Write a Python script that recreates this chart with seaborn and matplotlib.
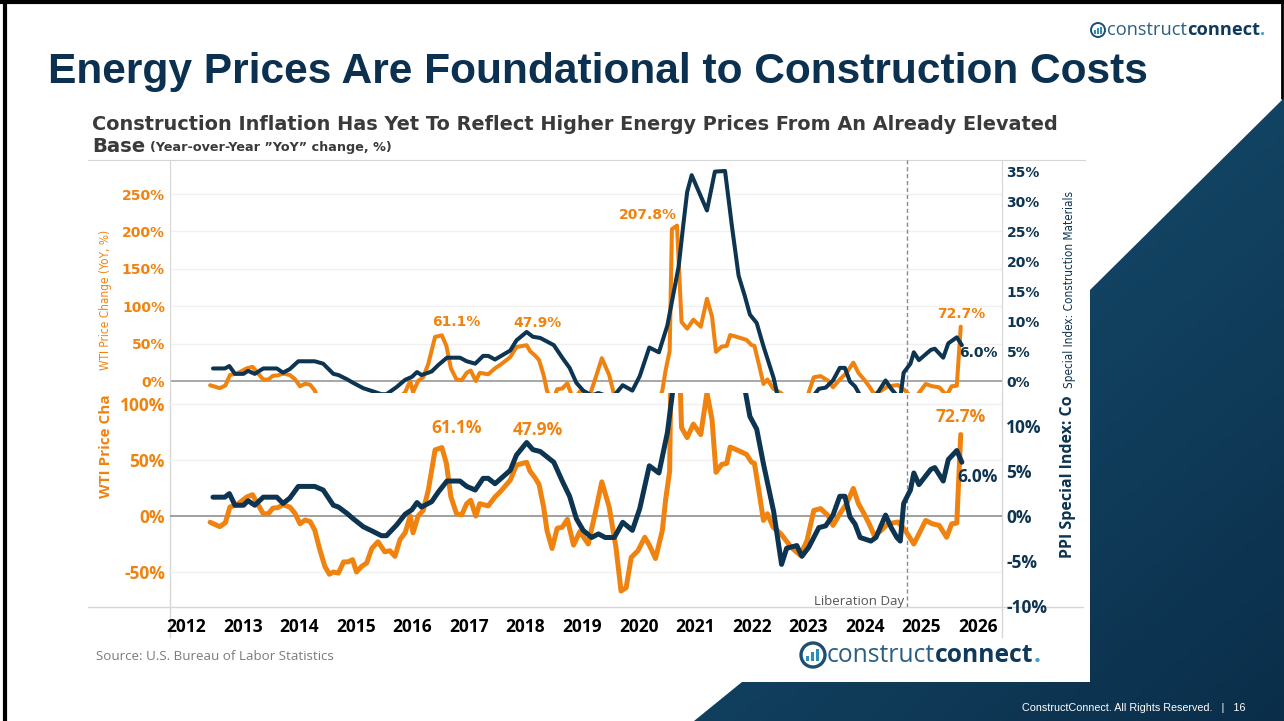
import numpy as np
import pandas as pd
import matplotlib
matplotlib.use("Agg")
import matplotlib.pyplot as plt
from matplotlib import font_manager
from matplotlib.colors import LinearSegmentedColormap
from matplotlib.patches import Polygon, Rectangle, Circle
import seaborn as sns

# ---- values (decimal year, YoY change in %) ----
wti_dates = [2012.92, 2013.09, 2013.19, 2013.27, 2013.39, 2013.57, 2013.67, 2013.77, 2013.86, 2013.95,
             2014.03, 2014.12, 2014.21, 2014.33, 2014.42, 2014.51, 2014.60, 2014.69, 2014.77, 2014.86,
             2014.95, 2015.03, 2015.10, 2015.19, 2015.28, 2015.36, 2015.44, 2015.51, 2015.60, 2015.69,
             2015.78, 2015.89, 2016.01, 2016.10, 2016.19, 2016.28, 2016.37, 2016.46, 2016.51, 2016.60,
             2016.69, 2016.78, 2016.90, 2017.02, 2017.10, 2017.18, 2017.28, 2017.37, 2017.46, 2017.53,
             2017.62, 2017.69, 2017.84, 2017.96, 2018.06, 2018.23, 2018.34, 2018.52, 2018.58, 2018.67,
             2018.74, 2018.82, 2018.88, 2018.97, 2019.06, 2019.15, 2019.24, 2019.35, 2019.46, 2019.61,
             2019.73, 2019.85, 2019.98, 2020.10, 2020.19, 2020.28, 2020.37, 2020.49, 2020.61, 2020.69,
             2020.80, 2020.92, 2020.98, 2021.05, 2021.09, 2021.18, 2021.26, 2021.36, 2021.47, 2021.60,
             2021.71, 2021.80, 2021.87, 2021.97, 2022.06, 2022.12, 2022.24, 2022.41, 2022.50, 2022.55,
             2022.63, 2022.71, 2022.78, 2022.88, 2023.02, 2023.20, 2023.36, 2023.48, 2023.60, 2023.72,
             2023.85, 2023.94, 2024.06, 2024.18, 2024.30, 2024.39, 2024.49, 2024.58, 2024.67, 2024.79,
             2024.91, 2025.09, 2025.22, 2025.37, 2025.46, 2025.58, 2025.70, 2025.82, 2025.95, 2026.04,
             2026.13, 2026.20]
wti_yoy = [-5.6, -9.5, -6, 8, 10, 17, 19, 10, 2, 2,
           7, 7.5, 10, 8, 2.5, -7, -3.6, -5, -12.5, -30,
           -45, -52, -50, -51, -41, -41, -39, -50, -45, -42,
           -29, -23, -32, -31, -36, -21, -15, 0, -15, 0,
           5, 23, 59, 61.1, 47, 17, 2, 1, 11, 14,
           0, 11, 9, 17, 22, 32, 45.5, 47.9, 40, 34,
           28, 8, -13, -29, -11, -10, -3, -26, -14, -25,
           2, 30.5, 8, -28, -67, -64, -37, -31, -19, -26,
           -38, -13, 15, 40, 203, 207.8, 79, 70, 82, 72.6,
           110, 86, 39, 46, 47, 61.5, 59, 55, 48, 47,
           22, -4, 2, -10, -16, -28, -35, -22, 5, 6.6,
           0.6, -8.4, 2, 11, 24.6, 11, 2, -7, -17.4, -13,
           -7, -5.4, -13, -25, -16, -4, -7, -8.4, -19, -7,
           -6.3, 72.7]

ppi_dates = [2012.97, 2013.18, 2013.26, 2013.36, 2013.51, 2013.59, 2013.71, 2013.86, 2014.10, 2014.21,
             2014.33, 2014.48, 2014.77, 2014.92, 2015.10, 2015.19, 2015.34, 2015.45, 2015.63, 2015.81,
             2015.95, 2016.04, 2016.22, 2016.37, 2016.49, 2016.58, 2016.66, 2016.84, 2016.96, 2017.11,
             2017.34, 2017.46, 2017.61, 2017.75, 2017.84, 2017.96, 2018.23, 2018.34, 2018.52, 2018.63,
             2018.76, 2019.00, 2019.15, 2019.28, 2019.40, 2019.52, 2019.67, 2019.79, 2019.91, 2020.07,
             2020.22, 2020.39, 2020.52, 2020.69, 2020.86, 2021.01, 2021.21, 2021.29, 2021.36, 2021.44,
             2021.71, 2021.85, 2022.03, 2022.15, 2022.27, 2022.38, 2022.47, 2022.59, 2022.71, 2022.89,
             2023.03, 2023.12, 2023.30, 2023.39, 2023.51, 2023.69, 2023.81, 2023.94, 2024.06, 2024.15,
             2024.24, 2024.33, 2024.42, 2024.61, 2024.70, 2024.87, 2024.97, 2025.07, 2025.13, 2025.19,
             2025.31, 2025.37, 2025.46, 2025.67, 2025.74, 2025.89, 2025.98, 2026.13, 2026.22]
ppi_yoy = [2.1, 2.1, 2.5, 1.2, 1.2, 1.7, 1.2, 2.1, 2.1, 1.4,
           2.0, 3.3, 3.3, 2.9, 1.2, 1.0, 0.3, -0.3, -1.2, -1.75,
           -2.2, -2.2, -1.0, 0.2, 0.7, 1.5, 1.0, 1.6, 2.7, 3.9,
           3.9, 3.3, 2.9, 4.2, 4.2, 3.6, 5.1, 6.8, 8.2, 7.4,
           7.2, 6.0, 3.9, 2.2, -0.3, -1.6, -2.4, -2.0, -2.4, -2.4,
           -0.7, -1.6, 0.8, 5.6, 4.8, 9.3, 19.2, 26, 31.6, 34.4,
           28.5, 35, 35.1, 26, 17.6, 14.2, 11.1, 9.7, 5.8, 0.5,
           -5.4, -3.6, -3.3, -4.5, -3.5, -1.3, -1.1, 0.1, 2.2, 2.2,
           -0.1, -0.9, -2.4, -2.8, -2.4, 0.1, -1.3, -2.4, -2.8, 1.4,
           2.9, 4.8, 3.5, 5.2, 5.4, 3.9, 6.3, 7.3, 6.0]

years = list(range(2012, 2027))
wti_ticks_top = [0, 50, 100, 150, 200, 250]
ppi_ticks_top = [0, 5, 10, 15, 20, 25, 30, 35]
wti_ticks_bottom = [-50, 0, 50, 100]
ppi_ticks_bottom = [-10, -5, 0, 5, 10]
liberation_day = 2025.25

title = "Energy Prices Are Foundational to Construction Costs"
subtitle = "Construction Inflation Has Yet To Reflect Higher Energy Prices From An Already Elevated"
subtitle_base = "Base"
subtitle_note = "(Year-over-Year \u201dYoY\u201d change, %)"
wti_label = "WTI Price Change (YoY, %)"
wti_label_cut = "WTI Price Cha"                       # what shows of the lower panel's label
ppi_label_top = "Special Index: Construction Materials"  # its "PPI" hides under the lower panel
ppi_label_cut = "PPI Special Index: Co"
source = "Source: U.S. Bureau of Labor Statistics"
footer = "ConstructConnect. All Rights Reserved.   |   16"

ORANGE = "#f0830f"
NAVY = "#0d3450"
GRID = "#f0f0f0"
ZERO = "#a0a0a0"
AXIS = "#d6d6d6"

W, H = 1284, 721

sns.set_style("white")
plt.rcParams["font.family"] = ["DejaVu Sans"]

fonts = font_manager.fontManager.ttflist
installed = {f.name for f in fonts}


def pick(*families):
    for fam in families:
        if fam in installed:
            return fam
    return "DejaVu Sans"


# a condensed face for the small axis titles of the upper panel, if one is there
if "Liberation Sans Narrow" in installed:
    NARROW, NARROW_STRETCH = "Liberation Sans Narrow", "normal"
elif any(f.name == "DejaVu Sans" and f.stretch == "condensed" for f in fonts):
    NARROW, NARROW_STRETCH = "DejaVu Sans", "condensed"
else:
    NARROW, NARROW_STRETCH = pick("Liberation Sans", "DejaVu Sans"), "normal"
BOOK = pick("Open Sans", "Lato", "DejaVu Sans")
ARIAL = pick("Liberation Sans", "DejaVu Sans")

fig = plt.figure(figsize=(W / 100, H / 100), dpi=100)
renderer = fig.canvas.get_renderer()


def px_axes(x0, y0, x1, y1):
    # axes placed by pixel box of the slide (y downwards)
    return fig.add_axes([x0 / W, 1 - y1 / H, (x1 - x0) / W, (y1 - y0) / H])


def fit(t, target, along_height=False):
    for _ in range(2):
        bb = t.get_window_extent(renderer=renderer)
        size = bb.height if along_height else bb.width
        t.set_fontsize(t.get_fontsize() * target / size)


# ---- slide background ----
bg = fig.add_axes([0, 0, 1, 1])
bg.set_zorder(0)
bg.axis("off")

shape = Polygon([(1284, 98), (1090, 290), (1090, 682), (742, 682), (694, 721), (1284, 721)],
                closed=True, fc="none", ec="none")
bg.add_patch(shape)
gy, gx = np.mgrid[0:1:200j, 0:1:200j]
slide_cmap = LinearSegmentedColormap.from_list("slide", ["#1a5577", "#0a2e4a"])
im = bg.imshow(0.55 * gy + 0.45 * gx, extent=(680, W, H, 90), cmap=slide_cmap,
               aspect="auto", origin="upper", zorder=1)
im.set_clip_path(shape)
bg.add_patch(Rectangle((80, 104), 1010, 578, fc="white", ec="none", zorder=2))
bg.set_xlim(0, W)
bg.set_ylim(H, 0)

# slide frame
bg.plot([5, 5], [0, H], color="black", lw=3, zorder=6)
bg.plot([0, W], [1.5, 1.5], color="black", lw=3, zorder=6)
bg.plot([1282, 1282], [0, 98], color="black", lw=2, zorder=6)

t = bg.text(48, 72, title, fontsize=34, fontweight="bold", family=ARIAL,
            color="#0c3150", va="center", ha="left", zorder=5)
fit(t, 1100)

t = bg.text(92, 124, subtitle, fontsize=12, fontweight="bold", family="DejaVu Sans",
            color="#3a3a3a", va="center", ha="left", zorder=5)
fit(t, 966)
sub_size = t.get_fontsize()
tb = bg.text(92, 146, subtitle_base, fontsize=sub_size * 1.02, fontweight="bold",
             family="DejaVu Sans", color="#3a3a3a", va="center", ha="left", zorder=5)
tn = bg.annotate(subtitle_note, xy=(1, 0), xycoords=tb, xytext=(5, 1), textcoords="offset pixels",
                 fontsize=9, fontweight="bold", family="DejaVu Sans", color="#3a3a3a",
                 va="bottom", ha="left", zorder=5)
fit(tn, 242)

# chart frame lines
bg.plot([88, 1083], [607, 607], color=AXIS, lw=1, zorder=3)
bg.plot([170, 170], [393, 637], color=AXIS, lw=1, zorder=3)
bg.plot([1002, 1002], [393, 637], color=AXIS, lw=1, zorder=3)

t = bg.text(96, 657, source, fontsize=10, family=BOOK, color="#7b7b7b", va="center", zorder=5)
fit(t, 239)
t = bg.text(1245, 708, footer, fontsize=7.5, family=ARIAL, color="white", ha="right",
            va="center", zorder=5)
fit(t, 223)


def logo(x0, y, width, r):
    cx = x0 - r - 2
    bg.add_patch(Circle((cx, y), r, fill=False, ec="#1c4f73", lw=r / 5, zorder=5))
    for k, hgt in enumerate([0.5, 0.8, 1.1]):
        bg.add_patch(Rectangle((cx - 0.55 * r + k * 0.42 * r, y + 0.5 * r - hgt * 0.9 * r),
                               0.25 * r, hgt * 0.9 * r, fc="#2a8fbf", ec="none", zorder=5))
    t1 = bg.text(x0, y, "construct", fontsize=12, family=BOOK, color="#2a5e82",
                 va="center", ha="left", zorder=5)
    t2 = bg.annotate("connect", xy=(1, 0.5), xycoords=t1, fontsize=12, fontweight="bold",
                     family=BOOK, color="#0f3a5c", va="center", ha="left", zorder=5)
    t3 = bg.annotate(".", xy=(1, 0.5), xycoords=t2, fontsize=12, fontweight="bold",
                     family=BOOK, color="#3aa3d0", va="center", ha="left", zorder=5)
    for _ in range(2):
        span = t3.get_window_extent(renderer).x1 - t1.get_window_extent(renderer).x0
        for tt in (t1, t2, t3):
            tt.set_fontsize(tt.get_fontsize() * width / span)


logo(1107, 30, 158, 7)
logo(827, 655, 214, 12)

# ---- chart data ----
wti = pd.DataFrame({"date": wti_dates, "yoy": wti_yoy})
ppi = pd.DataFrame({"date": ppi_dates, "yoy": ppi_yoy})
x_min, x_max = 2012.21, 2026.93
wti_peak = dict(zip(wti_yoy, wti_dates))

# ---- bottom (zoomed) panel ----
ax_b = px_axes(170, 393, 1002, 607)
ax_b2 = ax_b.twinx()
ax_b.set_zorder(1)
ax_b2.set_zorder(1.1)
for a in (ax_b, ax_b2):
    a.patch.set_visible(False)
    for s in a.spines.values():
        s.set_visible(False)

sns.lineplot(data=wti, x="date", y="yoy", ax=ax_b, color=ORANGE, linewidth=3.6,
             solid_joinstyle="round", solid_capstyle="round", legend=False, zorder=3)
sns.lineplot(data=ppi, x="date", y="yoy", ax=ax_b2, color=NAVY, linewidth=3.6,
             solid_joinstyle="round", solid_capstyle="round", legend=False, zorder=3)
ax_b.set_xlim(x_min, x_max)
ax_b.set_ylim(-81.25, 109.8)
ax_b2.set_ylim(*[v / 8 for v in ax_b.get_ylim()])

for v in wti_ticks_bottom:
    ax_b.axhline(v, color=ZERO if v == 0 else GRID, lw=1.4 if v == 0 else 1, zorder=1)
ax_b.axvline(liberation_day, color="#8a8a8a", lw=1, ls=(0, (3, 2)), zorder=2)

ax_b.set_yticks(wti_ticks_bottom)
ax_b.set_yticklabels([f"{v}%" for v in wti_ticks_bottom], color=ORANGE, fontsize=12.5,
                     fontweight="bold", family=BOOK)
ax_b2.set_yticks(ppi_ticks_bottom)
ax_b2.set_yticklabels([f"{v}%" for v in ppi_ticks_bottom], color=NAVY, fontsize=12.5,
                      fontweight="bold", family=BOOK)
ax_b.set_xticks([y + 0.5 for y in years])
ax_b.set_xticklabels([str(y) for y in years], color="black", fontsize=12.5,
                     fontweight="bold", family=BOOK)
ax_b.tick_params(axis="y", length=0, pad=3.6)
ax_b2.tick_params(axis="y", length=0, pad=2.9)
ax_b.tick_params(axis="x", length=0, pad=8)
for a in (ax_b, ax_b2):
    a.set_xlabel("")
    a.set_ylabel("")

t = ax_b.text(106, 498, wti_label_cut, transform=bg.transData, rotation=90, rotation_mode="anchor",
              ha="left", va="center", color=ORANGE, fontsize=11, fontweight="bold", family=BOOK)
fit(t, 104, along_height=True)
t = ax_b2.text(1068, 558, ppi_label_cut, transform=bg.transData, rotation=90,
               rotation_mode="anchor", ha="left", va="center", color=NAVY, fontsize=11,
               fontweight="bold", family=BOOK)
fit(t, 164, along_height=True)

lib = ax_b.annotate("Liberation Day", xy=(liberation_day, 0), xycoords=("data", "axes fraction"),
                    xytext=(-3, 6), textcoords="offset pixels", ha="right", va="center",
                    color="#555555", fontsize=9, family=BOOK)
fit(lib, 90)

for val, dx, dy in [(61.1, 15, 20), (47.9, 11, 32), (72.7, 0, 18)]:
    ax_b.annotate(f"{val}%", xy=(wti_peak[val], val), xytext=(dx, dy), textcoords="offset pixels",
                  ha="center", va="center", color=ORANGE, fontsize=12.5, fontweight="bold", family=BOOK)
ax_b2.annotate(f"{ppi_yoy[-1]:.1f}%", xy=(ppi_dates[-1], ppi_yoy[-1]), xytext=(16, -15),
               textcoords="offset pixels", ha="center", va="center", color=NAVY,
               fontsize=12.5, fontweight="bold", family=BOOK)

# ---- white backing of the top (full-range) panel ----
cover = px_axes(88, 160, 1085, 393)
cover.set_zorder(2)
cover.set_facecolor("white")
cover.set_xticks([])
cover.set_yticks([])
for name, s in cover.spines.items():
    s.set_visible(name == "top")
    s.set_color(AXIS)

# ---- top (full-range) panel ----
ax_t = px_axes(170, 160, 1002, 393)
ax_t2 = ax_t.twinx()
ax_t.set_zorder(3)
ax_t2.set_zorder(3.1)
for a in (ax_t, ax_t2):
    a.patch.set_visible(False)
    for s in a.spines.values():
        s.set_visible(False)
for name in ("left", "right"):
    ax_t.spines[name].set_visible(True)
    ax_t.spines[name].set_color(AXIS)

sns.lineplot(data=wti, x="date", y="yoy", ax=ax_t, color=ORANGE, linewidth=2.9,
             solid_joinstyle="round", solid_capstyle="round", legend=False, zorder=3)
sns.lineplot(data=ppi, x="date", y="yoy", ax=ax_t2, color=NAVY, linewidth=2.9,
             solid_joinstyle="round", solid_capstyle="round", legend=False, zorder=3)
ax_t.set_xlim(x_min, x_max)
ax_t.set_ylim(-16, 295.5)
ax_t2.set_ylim(*[v / 8 for v in ax_t.get_ylim()])

for v in wti_ticks_top:
    ax_t.axhline(v, color=ZERO if v == 0 else GRID, lw=1.3 if v == 0 else 1, zorder=1)
ax_t.axvline(liberation_day, color="#8a8a8a", lw=1, ls=(0, (3, 2)), zorder=2)

ax_t.set_xticks([])
ax_t.set_yticks(wti_ticks_top)
ax_t.set_yticklabels([f"{v}%" for v in wti_ticks_top], color=ORANGE, fontsize=10,
                     fontweight="bold", family="DejaVu Sans")
ax_t2.set_yticks(ppi_ticks_top)
ax_t2.set_yticklabels([f"{v}%" for v in ppi_ticks_top], color=NAVY, fontsize=10,
                      fontweight="bold", family="DejaVu Sans")
ax_t.tick_params(axis="y", length=0, pad=3.6)
ax_t2.tick_params(axis="y", length=0, pad=3.3)
for a in (ax_t, ax_t2):
    a.set_xlabel("")
    a.set_ylabel("")

t = ax_t.text(105, 300, wti_label, transform=bg.transData, rotation=90, ha="center", va="center",
              color=ORANGE, fontsize=10, family=NARROW, fontstretch=NARROW_STRETCH)
fit(t, 140, along_height=True)
t = ax_t2.text(1069, 388, ppi_label_top, transform=bg.transData, rotation=90,
               rotation_mode="anchor", ha="left", va="center", color=NAVY, fontsize=10,
               family=NARROW, fontstretch=NARROW_STRETCH)
fit(t, 197, along_height=True)

for val, dx, dy, ha in [(61.1, 14, 13, "center"), (47.9, 11, 22, "center"),
                        (207.8, 0, 11, "right"), (72.7, 1, 13, "center")]:
    ax_t.annotate(f"{val}%", xy=(wti_peak[val], val), xytext=(dx, dy), textcoords="offset pixels",
                  ha=ha, va="center", color=ORANGE, fontsize=10, fontweight="bold",
                  family="DejaVu Sans")
ax_t2.annotate(f"{ppi_yoy[-1]:.1f}%", xy=(ppi_dates[-1], ppi_yoy[-1]), xytext=(17, -8),
               textcoords="offset pixels", ha="center", va="center", color=NAVY,
               fontsize=10, fontweight="bold", family="DejaVu Sans")

fig.savefig("out.png", dpi=100)
